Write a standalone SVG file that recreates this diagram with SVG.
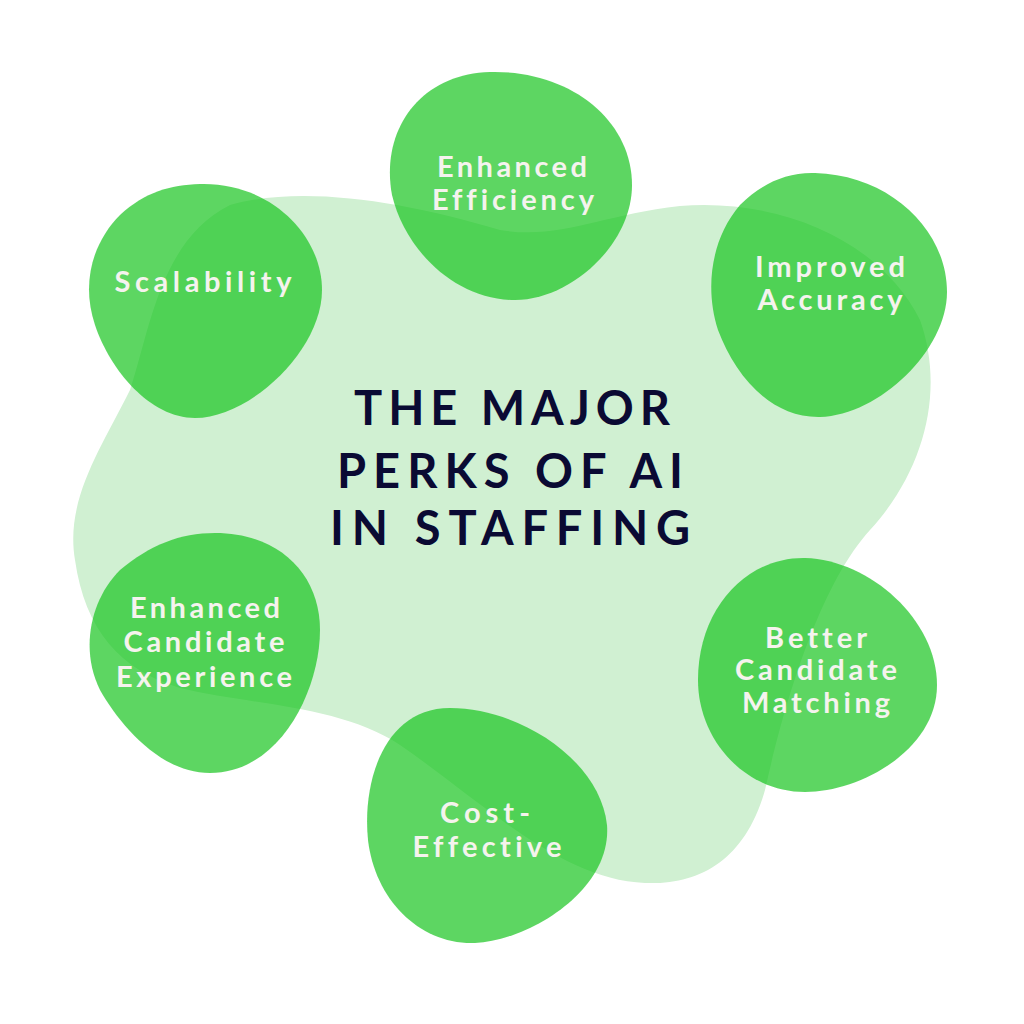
<svg xmlns="http://www.w3.org/2000/svg" width="1024" height="1024" viewBox="0 0 1024 1024">
  <style>
    text { font-variant-ligatures: none; font-feature-settings: "liga" 0, "clig" 0, "dlig" 0; }
    .bg { fill: #d0f0d2; }
    .blob { fill: #18c41f; fill-opacity: 0.7; }
    .lbl { font-family: Lato, "Open Sans", sans-serif; font-size: 29px; font-weight: 700; fill: #f5f3ee; text-anchor: middle; }
    .title { font-family: Lato, "Open Sans", sans-serif; font-size: 47px; font-weight: 700; fill: #0a0a33; text-anchor: middle; }
  </style>
  <rect width="1024" height="1024" fill="#ffffff"/>
  <g id="background">
    <path class="bg" d="M 230,205 C 300,185 400,200 500,230 C 560,240 600,215 680,206 C 780,198 880,240 920,320 C 945,390 925,470 870,530 C 820,585 785,700 765,790 C 745,860 700,885 645,883 C 560,880 480,800 400,745 C 340,705 250,705 180,688 C 120,670 85,630 75,560 C 65,500 100,450 130,390 C 150,330 160,240 230,205 Z"/>
  </g>
  <g id="title">
    <text class="title" x="512" y="425" textLength="316" lengthAdjust="spacing">THE MAJOR</text>
    <text class="title" x="510" y="488" textLength="346" lengthAdjust="spacing">PERKS OF AI</text>
    <text class="title" x="510" y="545" textLength="360" lengthAdjust="spacing">IN STAFFING</text>
  </g>
  <g id="node-enhanced-efficiency">
    <path class="blob" d="M 490,72 C 570,70 632,120 632,185 C 632,245 570,300 515,300 C 455,300 405,250 392,195 C 380,130 420,74 490,72 Z"/>
    <text class="lbl" x="512" y="177" textLength="150" lengthAdjust="spacing">Enhanced</text>
    <text class="lbl" x="513" y="210" textLength="162" lengthAdjust="spacing">Efficiency</text>
  </g>
  <g id="node-improved-accuracy">
    <path class="blob" d="M 815,173 C 890,175 947,230 947,292 C 947,350 880,415 820,417 C 770,418 735,375 718,330 C 705,290 710,240 740,205 C 760,185 785,172 815,173 Z"/>
    <text class="lbl" x="830" y="277" textLength="150" lengthAdjust="spacing">Improved</text>
    <text class="lbl" x="830" y="310" textLength="145" lengthAdjust="spacing">Accuracy</text>
  </g>
  <g id="node-scalability">
    <path class="blob" d="M 200,184 C 270,182 322,235 322,290 C 322,350 250,418 195,418 C 150,418 110,370 95,325 C 80,280 95,240 120,215 C 145,192 170,185 200,184 Z"/>
    <text class="lbl" x="203" y="292" textLength="177" lengthAdjust="spacing">Scalability</text>
  </g>
  <g id="node-enhanced-candidate-experience">
    <path class="blob" d="M 215,533 C 280,533 320,575 320,630 C 320,690 280,773 210,773 C 160,773 120,725 100,690 C 80,650 90,600 120,570 C 150,545 180,533 215,533 Z"/>
    <text class="lbl" x="205" y="618" textLength="150" lengthAdjust="spacing">Enhanced</text>
    <text class="lbl" x="204" y="652" textLength="161" lengthAdjust="spacing">Candidate</text>
    <text class="lbl" x="204" y="687" textLength="176" lengthAdjust="spacing">Experience</text>
  </g>
  <g id="node-cost-effective">
    <path class="blob" d="M 450,708 C 520,708 600,760 607,825 C 612,890 530,940 475,943 C 420,945 375,900 368,840 C 362,780 385,708 450,708 Z"/>
    <text class="lbl" x="485" y="823" textLength="90" lengthAdjust="spacing">Cost-</text>
    <text class="lbl" x="487" y="857" textLength="149" lengthAdjust="spacing">Effective</text>
  </g>
  <g id="node-better-candidate-matching">
    <path class="blob" d="M 805,558 C 870,560 937,620 937,685 C 937,750 860,792 805,792 C 745,792 698,740 698,680 C 698,610 745,557 805,558 Z"/>
    <text class="lbl" x="816" y="648" textLength="102" lengthAdjust="spacing">Better</text>
    <text class="lbl" x="816" y="680" textLength="162" lengthAdjust="spacing">Candidate</text>
    <text class="lbl" x="816" y="713" textLength="148" lengthAdjust="spacing">Matching</text>
  </g>
</svg>
